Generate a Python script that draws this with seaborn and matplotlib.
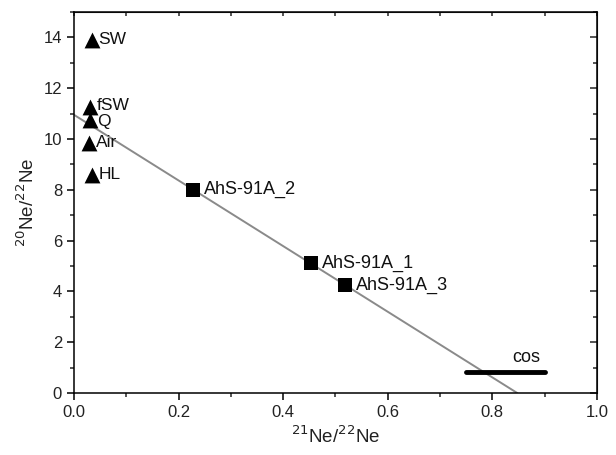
import matplotlib
matplotlib.use("Agg")
import matplotlib.pyplot as plt
import seaborn as sns
import pandas as pd
from matplotlib.ticker import MultipleLocator

# Data
ref_names = ["SW", "fSW", "Q", "Air", "HL"]
ref_x = [0.034, 0.031, 0.031, 0.029, 0.034]
ref_y = [13.9, 11.25, 10.75, 9.85, 8.6]

sample_names = ["AhS-91A_2", "AhS-91A_1", "AhS-91A_3"]
sample_x = [0.228, 0.453, 0.518]
sample_y = [8.0, 5.1, 4.25]

mix_x = [0.0, 0.848]
mix_y = [10.95, 0.0]

cos_x = [0.75, 0.90]
cos_y = [0.83, 0.83]

sns.set_style("ticks")
plt.rcParams["font.family"] = ["Liberation Sans", "DejaVu Sans"]

fig = plt.figure(figsize=(6.16, 4.55), dpi=100)
ax = fig.add_axes([0.120, 0.136, 0.849, 0.838])

# mixing line
sns.lineplot(x=mix_x, y=mix_y, ax=ax, color="#8a8a8a", linewidth=1.4, zorder=1)
# cosmogenic bar
sns.lineplot(x=cos_x, y=cos_y, ax=ax, color="black", linewidth=3.5, zorder=2)

df_ref = pd.DataFrame({"x": ref_x, "y": ref_y})
df_s = pd.DataFrame({"x": sample_x, "y": sample_y})
sns.scatterplot(data=df_ref, x="x", y="y", marker="^", s=130, color="black",
                edgecolor="black", linewidth=0, ax=ax, zorder=3)
sns.scatterplot(data=df_s, x="x", y="y", marker="s", s=110, color="black",
                edgecolor="black", linewidth=0, ax=ax, zorder=3)

ref_dy = {"fSW": 1.0, "Q": -1.2}
for n, x, y in zip(ref_names, ref_x, ref_y):
    ax.annotate(n, (x, y), xytext=(5, ref_dy.get(n, 0)), textcoords="offset points",
                va="center", ha="left", fontsize=12.5, color="#111111")
for n, x, y in zip(sample_names, sample_x, sample_y):
    ax.annotate(n, (x, y), xytext=(8, 0), textcoords="offset points",
                va="center", ha="left", fontsize=13, color="#111111")
ax.text(sum(cos_x) / 2 + 0.04, 1.4, "cos", ha="center", va="center", fontsize=13,
        color="#111111")

ax.set_xlim(0, 1.0)
ax.set_ylim(0, 15)
ax.xaxis.set_major_locator(MultipleLocator(0.2))
ax.xaxis.set_minor_locator(MultipleLocator(0.1))
ax.yaxis.set_major_locator(MultipleLocator(2))
ax.yaxis.set_minor_locator(MultipleLocator(1))
ax.xaxis.set_major_formatter(matplotlib.ticker.FormatStrFormatter("%.1f"))

for s in ax.spines.values():
    s.set_visible(True)
    s.set_linewidth(1.1)
    s.set_color("black")

ax.tick_params(axis="both", which="major", direction="out", length=5, width=1.1,
               labelsize=12, colors="black", labelcolor="#222222")
ax.tick_params(axis="both", which="minor", direction="out", length=3, width=1.1)

ax.set_xlabel(r"$^{21}$Ne/$^{22}$Ne", fontsize=13.5, color="#222222")
ax.set_ylabel(r"$^{20}$Ne/$^{22}$Ne", fontsize=13.5, color="#222222")

# top/right ticks inward
ax2 = ax.secondary_xaxis("top")
ax2.xaxis.set_major_locator(MultipleLocator(0.1))
ax2.tick_params(direction="in", length=3, width=1.1)
ax2.set_xticklabels([])
ax3 = ax.secondary_yaxis("right")
ax3.yaxis.set_major_locator(MultipleLocator(2))
ax3.yaxis.set_minor_locator(MultipleLocator(1))
ax3.tick_params(which="major", direction="in", length=5, width=1.1)
ax3.tick_params(which="minor", direction="in", length=3, width=1.1)
ax3.set_yticklabels([])
ax.tick_params(axis="x", which="both", top=False)
ax.tick_params(axis="y", which="both", right=False)

fig.savefig("out.png", dpi=100)
